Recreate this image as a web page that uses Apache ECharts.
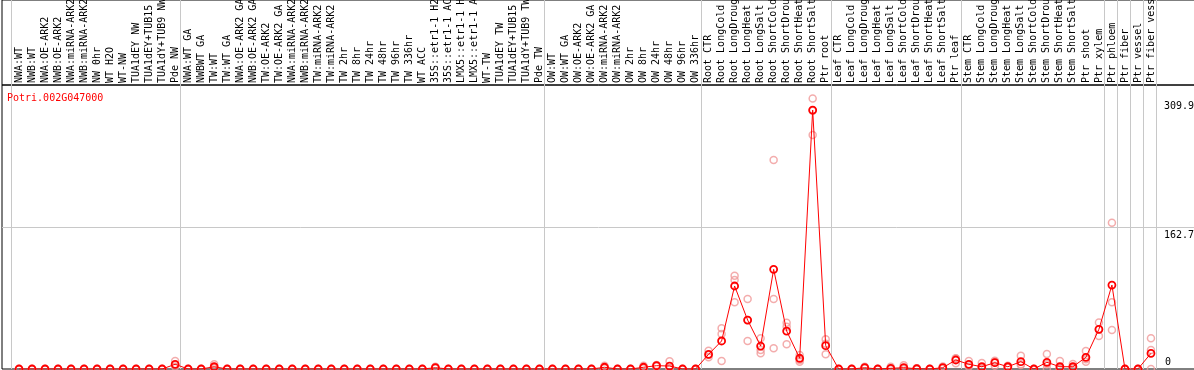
<!DOCTYPE html>
<html>
<head>
<meta charset="utf-8">
<script src="https://cdn.jsdelivr.net/npm/echarts@6/dist/echarts.min.js"></script>
<style>
html, body { margin: 0; padding: 0; background: #fff; }
#chart { width: 1194px; height: 370px; }
</style>
</head>
<body>
<div id="chart"></div>
<script>
var geneName = 'Potri.002G047000'; //基因名

//样本名称
var categories = [
	'NWA:WT', 'NWB:WT', 'NWA:OE-ARK2', 'NWB:OE-ARK2', 'NWA:miRNA-ARK2', 'NWB:miRNA-ARK2', 'NW 0hr', 'WT H2O', 'WT-NW',
	'TUA1dEY NW', 'TUA1dEY+TUB15 NW', 'TUA1dY+TUB9 NW', 'Pde NW',
	'NWA:WT GA', 'NWBWT GA', 'TW:WT', 'TW:WT GA', 'NWA:OE-ARK2 GA', 'NWB:OE-ARK2 GA', 'TW:OE-ARK2', 'TW:OE-ARK2 GA',
	'NWA:miRNA-ARK2 GA', 'NWB:miRNA-ARK2 GA', 'TW:miRNA-ARK2', 'TW:miRNA-ARK2 GA', 'TW 2hr', 'TW 8hr', 'TW 24hr',
	'TW 48hr', 'TW 96hr', 'TW 336hr', 'WT ACC', '35S::etr1-1 H2O', '35S::etr1-1 ACC', 'LMX5::etr1-1 H2O',
	'LMX5::etr1-1 ACC', 'WT-TW', 'TUA1dEY TW', 'TUA1dEY+TUB15 TW', 'TUA1dY+TUB9 TW', 'Pde TW',
	'OW:WT', 'OW:WT GA', 'OW:OE-ARK2', 'OW:OE-ARK2 GA', 'OW:miRNA-ARK2', 'OW:miRNA-ARK2 GA', 'OW 2hr', 'OW 8hr',
	'OW 24hr', 'OW 48hr', 'OW 96hr', 'OW 336hr',
	'Root CTR', 'Root LongCold', 'Root LongDrought', 'Root LongHeat', 'Root LongSalt', 'Root ShortCold',
	'Root ShortDrought', 'Root ShortHeat', 'Root ShortSalt', 'Ptr root',
	'Leaf CTR', 'Leaf LongCold', 'Leaf LongDrought', 'Leaf LongHeat', 'Leaf LongSalt', 'Leaf ShortCold',
	'Leaf ShortDrought', 'Leaf ShortHeat', 'Leaf ShortSalt', 'Ptr leaf',
	'Stem CTR', 'Stem LongCold', 'Stem LongDrought', 'Stem LongHeat', 'Stem LongSalt', 'Stem ShortCold',
	'Stem ShortDrought', 'Stem ShortHeat', 'Stem ShortSalt', 'Ptr shoot', 'Ptr xylem',
	'Ptr phloem', 'Ptr fiber', 'Ptr vessel', 'Ptr fiber vessel'
];

//每组样本数(灰色分隔线)
var groupSizes = [13, 28, 12, 10, 10, 11, 1, 1, 1, 1];

//平均表达量
var means = [
	0, 0, 0, 0, 0, 0, 0, 0, 0, 0, 0, 0, 5.4,
	0, 0, 2.6, 0, 0, 0, 0, 0, 0, 0, 0, 0, 0, 0, 0, 0, 0, 0, 0, 1.5, 0, 0, 0, 0, 0, 0, 0, 0,
	0, 0, 0, 0, 2, 0, 0, 2, 3.8, 3.4, 0, 0,
	16.8, 32.1, 95.1, 56.1, 26.3, 114.2, 43.5, 12.3, 296.7, 26.7,
	0, 0, 1.5, 0, 0.8, 1.5, 0.3, 0, 1.5, 10.3,
	5.4, 2.6, 7.2, 2.6, 8.4, 0, 7.7, 2.6, 2.6, 13.4, 45.5,
	96.2, 0, 0, 18
];

//重复样本表达量
var reps = [
	[0, 0, 0], [0, 0, 0], [0, 0, 0], [0, 0, 0], [0, 0, 0], [0, 0, 0], [0, 0, 0], [0, 0, 0], [0, 0, 0],
	[0, 0, 0], [0, 0, 0], [0, 0, 0], [9.2, 4.5, 2.5],
	[0, 0, 0], [0, 0, 0], [5.4, 1.5, 0.9], [0, 0, 0], [0, 0, 0], [0, 0, 0], [0, 0, 0], [0, 0, 0],
	[0, 0, 0], [0, 0, 0], [0, 0, 0], [0, 0, 0], [0, 0, 0], [0, 0, 0], [0, 0, 0], [0, 0, 0],
	[0, 0, 0], [0, 0, 0], [0, 0, 0], [2.6, 1, 0.8], [0, 0, 0], [0, 0, 0], [0, 0, 0],
	[0, 0, 0], [0, 0, 0], [0, 0, 0], [0, 0, 0], [0, 0, 0],
	[0, 0, 0], [0, 0, 0], [0, 0, 0], [0, 0, 0], [3.8, 1.2, 1], [0, 0, 0], [0, 0, 0], [3.8, 1.2, 1],
	[4.5, 3.8, 3], [8.8, 1, 0.5], [0, 0, 0], [0, 0, 0],
	[21, 16, 13.4], [46.7, 40, 9.2], [106.8, 102, 76.5], [80.2, 56, 32.1], [35.2, 21.8, 18],
	[239.5, 80.2, 23.7], [53, 48.5, 28.3], [16, 10.3, 8.4], [309.9, 296, 268], [34, 29, 16.8],
	[0, 0, 0], [0, 0, 0], [2.6, 1, 1], [0, 0, 0], [2.6, 0, 0], [4.2, 0.3, 0], [1, 0, 0], [0, 0, 0],
	[3, 1, 0.5], [12.3, 12, 6.5],
	[9.2, 4.6, 2.5], [7, 0.5, 0.3], [8.4, 9.5, 3.7], [3.8, 2.3, 1.7], [15.2, 5.4, 4.6], [0, 0, 0],
	[17.2, 5.4, 0.5], [9.2, 0.5, 0], [5.7, 1.5, 0.6], [20.6, 8.4, 11.2], [53.3, 45.5, 37.8],
	[167.6, 76.5, 44.6], [0, 0, 0], [0, 0, 0], [35.2, 21.8, 0]
];

var yMax = 325.4; //纵轴最大值
var yTicks = [162.7, 309.9]; //纵轴刻度
var yZeroTick = [0];

var font = 'DejaVu Sans Mono';
var gridColor = '#c8c8c8';

// x坐标为样本序号, 两端留出空白
var xMin = -17 / 13;
var xMax = 1175 / 13;

var indices = [];
var meanData = [];
var repData = [];
for (var i = 0; i < categories.length; i++) {
	indices.push(i);
	meanData.push([i, means[i]]);
	for (var j = 0; j < reps[i].length; j++) {
		repData.push([i, reps[i][j]]);
	}
}
//分组分隔线位置
var bounds = [-0.6];
var n = 0;
for (var k = 0; k < groupSizes.length; k++) {
	n += groupSizes[k];
	bounds.push(n - 0.6);
}

var myChart = echarts.init(document.getElementById('chart'));
var option = {
	animation: false,
	title: {
		text: geneName,
		left: 2,
		top: 88,
		textStyle: { color: '#ff0000', fontSize: 10, fontWeight: 'normal', fontFamily: font }
	},
	grid: [
		{ left: 2, right: -1, top: 85, bottom: 1, show: true, borderColor: '#000', borderWidth: 1, outerBoundsMode: 'none', containLabel: false },
		{ left: 2, right: -1, top: 0, height: 85, show: true, borderColor: '#000', borderWidth: 1, outerBoundsMode: 'none', containLabel: false }
	],
	xAxis: [
		{
			gridIndex: 0,
			type: 'value',
			position: 'top',
			min: xMin,
			max: xMax,
			axisLine: { show: false },
			axisTick: { show: false, customValues: bounds },
			splitLine: { show: true, lineStyle: { color: gridColor, width: 1 } },
			axisLabel: {
				customValues: indices,
				rotate: 90,
				margin: 2,
				fontFamily: font,
				fontSize: 10,
				color: '#000',
				formatter: function(v) {
					return categories[Math.round(v)];
				}
			}
		},
		{
			gridIndex: 1,
			type: 'value',
			min: xMin,
			max: xMax,
			axisLine: { show: false },
			axisTick: { show: false, customValues: bounds },
			axisLabel: { show: false },
			splitLine: { show: true, lineStyle: { color: gridColor, width: 1 } }
		}
	],
	yAxis: [
		{
			gridIndex: 0,
			type: 'value',
			position: 'right',
			min: 0,
			max: yMax,
			axisLine: { show: false },
			axisTick: { show: false, customValues: [yTicks[0]] },
			splitLine: { show: true, lineStyle: { color: gridColor, width: 1 } },
			axisLabel: {
				inside: true,
				customValues: yTicks,
				align: 'left',
				verticalAlign: 'top',
				padding: [3, 0, 0, 0],
				margin: 31,
				fontFamily: font,
				fontSize: 10,
				color: '#000'
			}
		},
		{
			gridIndex: 0,
			type: 'value',
			position: 'right',
			min: 0,
			max: yMax,
			axisLine: { show: false },
			axisTick: { show: false },
			splitLine: { show: false },
			axisLabel: {
				inside: true,
				customValues: yZeroTick,
				align: 'left',
				verticalAlign: 'bottom',
				padding: [0, 0, 2, 0],
				margin: 30,
				fontFamily: font,
				fontSize: 10,
				color: '#000'
			}
		},
		{ gridIndex: 1, type: 'value', show: false }
	],
	series: [
		{ // 重复样本
			type: 'scatter',
			xAxisIndex: 0,
			yAxisIndex: 0,
			symbol: 'circle',
			symbolSize: 7,
			itemStyle: { color: 'rgba(0,0,0,0)', borderColor: '#f09898', borderWidth: 1.5 },
			data: repData
		},
		{ // 平均值
			type: 'line',
			xAxisIndex: 0,
			yAxisIndex: 0,
			symbol: 'circle',
			symbolSize: 7,
			showAllSymbol: true,
			lineStyle: { color: '#ff0000', width: 1 },
			itemStyle: { color: 'rgba(0,0,0,0)', borderColor: '#ff0000', borderWidth: 1.8 },
			data: meanData
		}
	]
};
myChart.setOption(option);
</script>
</body>
</html>
